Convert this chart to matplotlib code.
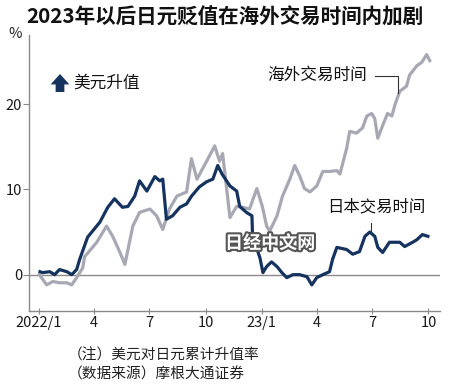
import numpy as np
import pandas as pd
import matplotlib
matplotlib.use('Agg')
import matplotlib.pyplot as plt
import matplotlib.patheffects as pe
from matplotlib.lines import Line2D

plt.rcParams['font.family'] = ['Noto Sans CJK SC', 'DejaVu Sans']

# -------------------------------------------------
# data (cumulative USD/JPY rise, %)
# -------------------------------------------------
japan_dates = ['2022-01-03', '2022-01-07', '2022-01-19', '2022-01-27', '2022-02-04',
               '2022-02-16', '2022-02-24', '2022-03-04', '2022-03-09', '2022-03-22',
               '2022-04-11', '2022-04-24', '2022-05-05', '2022-05-18', '2022-05-27',
               '2022-06-07', '2022-06-15', '2022-06-27', '2022-07-10', '2022-07-18',
               '2022-07-23', '2022-07-29', '2022-08-08', '2022-08-20', '2022-08-31',
               '2022-09-08', '2022-09-21', '2022-10-03', '2022-10-13', '2022-10-21',
               '2022-10-28', '2022-11-10', '2022-11-21', '2022-11-26', '2022-12-07',
               '2022-12-16', '2022-12-17', '2022-12-29', '2023-01-03', '2023-01-09',
               '2023-01-17', '2023-01-26', '2023-02-03', '2023-02-11', '2023-02-21',
               '2023-03-04', '2023-03-16', '2023-03-24', '2023-04-01', '2023-04-11',
               '2023-04-22', '2023-04-27', '2023-05-04', '2023-05-20', '2023-05-30',
               '2023-06-10', '2023-06-19', '2023-06-27', '2023-07-05', '2023-07-10',
               '2023-07-18', '2023-07-29', '2023-08-15', '2023-08-23', '2023-09-05',
               '2023-09-12', '2023-09-21', '2023-09-30']
japan_vals = [0.35, 0.24, 0.35, 0.0, 0.6,
              0.35, 0.0, 0.6, 1.8, 4.4,
              6.15, 7.9, 8.9, 7.9, 8.0,
              9.2, 11.0, 9.8, 11.5, 11.0,
              11.2, 6.5, 6.9, 7.9, 8.3,
              9.2, 10.3, 10.9, 11.2, 12.8,
              11.8, 10.4, 9.8, 8.0, 7.3,
              6.9, 4.5, 2.0, 0.24, 0.95,
              1.5, 0.95, 0.24, -0.35, 0.0,
              0.0, -0.24, -1.2, -0.35, 0.0,
              0.35, 1.8, 3.2, 2.95, 2.4,
              2.7, 4.5, 5.0, 4.5, 3.2,
              2.6, 3.8, 3.8, 3.3, 3.8,
              4.1, 4.7, 4.5]

overseas_dates = ['2022-01-02', '2022-01-14', '2022-01-24', '2022-02-04', '2022-02-16',
                  '2022-02-24', '2022-03-04', '2022-03-14', '2022-03-17', '2022-04-06',
                  '2022-04-22', '2022-05-02', '2022-05-14', '2022-05-22', '2022-06-04',
                  '2022-06-15', '2022-07-02', '2022-07-13', '2022-07-23', '2022-08-03',
                  '2022-08-15', '2022-08-31', '2022-09-08', '2022-09-17', '2022-09-26',
                  '2022-10-08', '2022-10-16', '2022-10-24', '2022-10-29', '2022-11-06',
                  '2022-11-10', '2022-11-21', '2022-12-01', '2022-12-12', '2022-12-24',
                  '2023-01-02', '2023-01-09', '2023-01-14', '2023-01-26', '2023-02-04',
                  '2023-02-16', '2023-02-24', '2023-03-04', '2023-03-12', '2023-03-21',
                  '2023-04-01', '2023-04-11', '2023-04-22', '2023-05-04', '2023-05-09',
                  '2023-05-20', '2023-05-25', '2023-06-05', '2023-06-15', '2023-06-22',
                  '2023-06-30', '2023-07-05', '2023-07-10', '2023-07-18', '2023-07-26',
                  '2023-08-02', '2023-08-07', '2023-08-15', '2023-08-26', '2023-08-31',
                  '2023-09-12', '2023-09-20', '2023-09-28', '2023-10-03']
overseas_vals = [0.0, -1.2, -0.8, -0.95, -0.95,
                 -1.2, -0.35, 0.8, 2.1, 3.8,
                 5.7, 4.5, 2.6, 1.2, 5.7,
                 7.3, 7.7, 6.9, 5.3, 7.7,
                 9.2, 9.7, 13.6, 11.2, 12.4,
                 14.0, 15.1, 13.3, 14.2, 9.2,
                 6.7, 8.0, 7.9, 7.7, 10.1,
                 8.0, 5.7, 5.1, 6.9, 9.2,
                 11.2, 12.8, 11.6, 10.1, 9.7,
                 10.4, 12.1, 12.1, 12.2, 11.8,
                 14.8, 16.8, 16.6, 17.2, 18.6,
                 18.9, 18.3, 16.0, 17.5, 18.9,
                 18.6, 19.9, 21.5, 22.1, 23.4,
                 24.5, 24.9, 25.8, 25.1]

tick_dates = ['2022-01-01', '2022-04-01', '2022-07-01', '2022-10-01',
              '2023-01-01', '2023-04-01', '2023-07-01', '2023-10-01']
tick_labels = ['2022/1', '4', '7', '10', '23/1', '4', '7', '10']

NAVY = '#15335e'
GRAY = '#a8a8b4'
AXIS = '#8a8a8a'

# -------------------------------------------------
# plot
# -------------------------------------------------
fig = plt.figure(figsize=(4.5, 3.89), dpi=100)
ax = fig.add_axes([0.0644, 0.2005, 0.9136, 0.7095])

ax.plot(pd.to_datetime(overseas_dates), overseas_vals, color=GRAY, lw=2.3, zorder=3)
ax.plot(pd.to_datetime(japan_dates), japan_vals, color=NAVY, lw=2.3, zorder=4)
ax.axhline(0, color=AXIS, lw=1.0, zorder=2)

ax.set_xlim(pd.Timestamp('2021-12-16'), pd.Timestamp('2023-10-20'))
ax.set_ylim(-4.26, 28.1)

ax.set_xticks(pd.to_datetime(tick_dates))
ax.set_xticklabels(tick_labels)
ax.set_yticks([0, 10, 20])
ax.set_yticklabels(['0', '10', '20'])
ax.tick_params(axis='x', direction='inout', length=5, width=0.8, color=AXIS,
               labelsize=10.5, pad=1, labelcolor='#1a1a1a')
ax.tick_params(axis='y', direction='out', length=4, width=0.8, color=AXIS,
               labelsize=10.5, pad=1, labelcolor='#1a1a1a')

for side in ['top', 'right']:
    ax.spines[side].set_visible(False)
for side in ['left', 'bottom']:
    ax.spines[side].set_color(AXIS)
    ax.spines[side].set_linewidth(1.0)

# -------------------------------------------------
# texts and annotations
# -------------------------------------------------
fig.text(0.5, 0.957, '2023年以后日元贬值在海外交易时间内加剧', ha='center', va='center',
         fontsize=14.8, fontweight='bold', color='#111111')
fig.text(0.018, 0.913, '%', ha='left', va='center', fontsize=10.5, color='#222222')

ax.annotate('', xy=(60, 315), xytext=(60, 297), xycoords='figure pixels',
            textcoords='figure pixels',
            arrowprops=dict(arrowstyle='simple,head_width=0.9,head_length=0.5,tail_width=0.42',
                            color=NAVY, lw=0, mutation_scale=15, shrinkA=0, shrinkB=0))
fig.text(0.162, 0.787, '美元升值', ha='left', va='center', fontsize=12, color='#111111')

fig.text(0.593, 0.805, '海外交易时间', ha='left', va='center', fontsize=12, color='#111111')
fig.add_artist(Line2D([375 / 450, 398 / 450, 398 / 450],
                      [1 - 76 / 389, 1 - 76 / 389, 1 - 93 / 389],
                      transform=fig.transFigure, color='#333333', lw=0.8))

fig.text(0.727, 0.468, '日本交易时间', ha='left', va='center', fontsize=11.8, color='#111111')
fig.add_artist(Line2D([371 / 450, 371 / 450], [1 - 223 / 389, 1 - 234 / 389],
                      transform=fig.transFigure, color='#333333', lw=0.8))

fig.text(0.6, 0.375, '日经中文网', ha='center', va='center', fontsize=13,
         fontweight='bold', color='white', zorder=10,
         path_effects=[pe.withStroke(linewidth=3, foreground='#555555')])

fig.text(0.151, 0.087, '（注）美元对日元累计升值率', ha='left', va='center',
         fontsize=10.6, color='#222222')
fig.text(0.151, 0.036, '（数据来源）摩根大通证券', ha='left', va='center',
         fontsize=10.6, color='#222222')

fig.savefig('out.png', dpi=100)
